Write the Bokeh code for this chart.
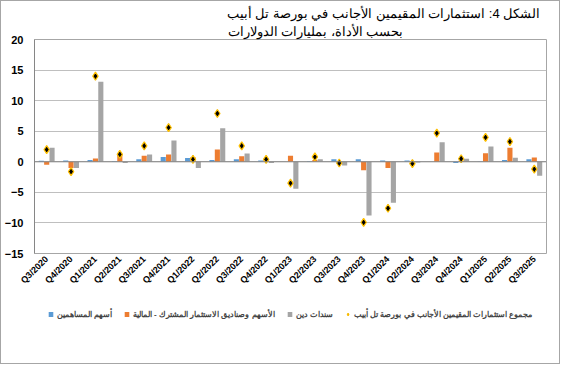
import math
from bokeh.plotting import figure
from bokeh.layouts import column
from bokeh.models import (FactorRange, Range1d, FixedTicker, Span, Legend, LegendItem,
                          Title, ColumnDataSource)
from bokeh.transform import dodge
from bokeh.embed import file_html
from bokeh.resources import INLINE

quarters = ["Q3/2020", "Q4/2020", "Q1/2021", "Q2/2021", "Q3/2021", "Q4/2021", "Q1/2022",
            "Q2/2022", "Q3/2022", "Q4/2022", "Q1/2023", "Q2/2023", "Q3/2023", "Q4/2023",
            "Q1/2024", "Q2/2024", "Q3/2024", "Q4/2024", "Q1/2025", "Q2/2025", "Q3/2025"]
shareholders = [0.15, 0.2, 0.3, 0.1, 0.4, 0.8, 0.6, 0.3, 0.4, 0.2, 0.0, 0.1, 0.4, 0.4,
                0.2, 0.2, 0.0, -0.2, 0.05, 0.3, 0.4]
funds = [-0.5, -1.0, 0.55, 1.25, 1.0, 1.2, 0.8, 2.0, 0.9, 0.4, 1.0, 0.3, 0.0, -1.4,
         -1.0, -0.4, 1.5, 0.2, 1.4, 2.3, 0.7]
bonds = [2.3, -1.0, 13.1, -0.2, 1.2, 3.5, -1.0, 5.5, 1.35, -0.2, -4.4, 0.4, -0.6, -8.8,
         -6.7, -0.1, 3.2, 0.5, 2.5, 0.65, -2.3]
totals = [2.0, -1.6, 14.0, 1.2, 2.6, 5.6, 0.4, 7.9, 2.6, 0.4, -3.5, 0.8, -0.2, -9.9,
          -7.6, -0.3, 4.7, 0.5, 4.0, 3.3, -1.2]
y_ticks = [-15, -10, -5, 0, 5, 10, 15, 20]

labels = ["أسهم المساهمين",
          "الأسهم وصناديق الاستثمار المشترك - المالية",
          "سندات دين",
          "مجموع استثمارات المقيمين الأجانب في بورصة تل أبيب"]
title_line1 = "الشكل 4: استثمارات المقيمين الأجانب في بورصة تل أبيب"
title_line2 = "بحسب الأداة، بمليارات الدولارات"

BLUE, ORANGE, GRAY = "#5B9BD5", "#ED7D31", "#A5A5A5"
FONT = "Liberation Sans"

src = ColumnDataSource(dict(q=quarters, sh=shareholders, fu=funds, bo=bonds, tot=totals))


def add_series(fig):
    a = fig.vbar(x=dodge("q", -0.22, range=fig.x_range), top="sh", bottom=0, width=0.21,
                 source=src, fill_color=BLUE, line_color=None)
    b = fig.vbar(x=dodge("q", 0.0, range=fig.x_range), top="fu", bottom=0, width=0.21,
                 source=src, fill_color=ORANGE, line_color=None)
    c = fig.vbar(x=dodge("q", 0.22, range=fig.x_range), top="bo", bottom=0, width=0.21,
                 source=src, fill_color=GRAY, line_color=None)
    return a, b, c


p = figure(x_range=FactorRange(*quarters), y_range=Range1d(-15, 20),
           width=558, height=300, output_backend="svg", toolbar_location=None,
           min_border_left=31, min_border_right=13, min_border_top=38, min_border_bottom=48)
p.outline_line_color = "#A6A6A6"
p.background_fill_color = "white"
p.border_fill_color = "white"

add_series(p)
p.add_layout(Span(location=0, dimension="width", line_color="#868686", line_width=1))
p.scatter(x="q", y="tot", marker="diamond", size=8, fill_color="black",
          line_color="#FFC000", line_width=1.2, source=src)

p.xgrid.grid_line_color = None
p.ygrid.grid_line_color = "#BFBFBF"
p.ygrid.ticker = FixedTicker(ticks=y_ticks)

p.yaxis.ticker = FixedTicker(ticks=y_ticks)
p.yaxis.axis_line_color = "#868686"
p.yaxis.major_tick_line_color = None
p.yaxis.major_tick_out = 0
p.yaxis.minor_tick_line_color = None
p.yaxis.minor_tick_out = 0
p.yaxis.major_label_text_font = FONT
p.yaxis.major_label_text_font_style = "bold"
p.yaxis.major_label_text_font_size = "11px"
p.yaxis.major_label_text_color = "black"
p.yaxis.major_label_standoff = 11

p.xaxis.axis_line_color = None
p.xaxis.major_tick_line_color = None
p.xaxis.major_tick_out = 0
p.xaxis.minor_tick_line_color = None
p.xaxis.major_label_orientation = math.pi / 4
p.xaxis.major_label_text_font = FONT
p.xaxis.major_label_text_font_style = "bold"
p.xaxis.major_label_text_font_size = "9px"
p.xaxis.major_label_text_color = "black"
p.xaxis.major_label_standoff = 4

p.add_layout(Title(text=title_line2, align="left", offset=193, standoff=1,
                   text_font=FONT, text_font_size="13px", text_font_style="normal",
                   text_color="black"), "above")
p.add_layout(Title(text=title_line1, align="left", offset=192, standoff=2,
                   text_font=FONT, text_font_size="13px", text_font_style="normal",
                   text_color="black"), "above")

# legend strip below the chart (its own renderers sit outside its visible range)
lf = figure(x_range=p.x_range, y_range=Range1d(1000, 1001), width=558, height=62,
            output_backend="svg", toolbar_location=None, min_border=0)
lf.axis.visible = False
lf.grid.visible = False
lf.outline_line_color = None
l1, l2, l3 = add_series(lf)
l4 = lf.scatter(x="q", y="tot", marker="diamond", size=8, fill_color="black",
                line_color="#FFC000", line_width=1.2, source=src)
legend = Legend(items=[LegendItem(label=labels[0], renderers=[l1]),
                       LegendItem(label=labels[1], renderers=[l2]),
                       LegendItem(label=labels[2], renderers=[l3]),
                       LegendItem(label=labels[3], renderers=[l4])],
                orientation="horizontal", location="top",
                border_line_color=None, background_fill_alpha=0,
                label_text_font=FONT, label_text_font_style="bold",
                label_text_font_size="8px", glyph_width=6, glyph_height=6,
                label_standoff=3, spacing=12, padding=0, margin=8,
                label_height=10)
lf.add_layout(legend)

layout = column(p, lf, spacing=0)
layout.styles = {"border": "1px solid #A6A6A6"}
open("out.html", "w").write(file_html(layout, INLINE))
